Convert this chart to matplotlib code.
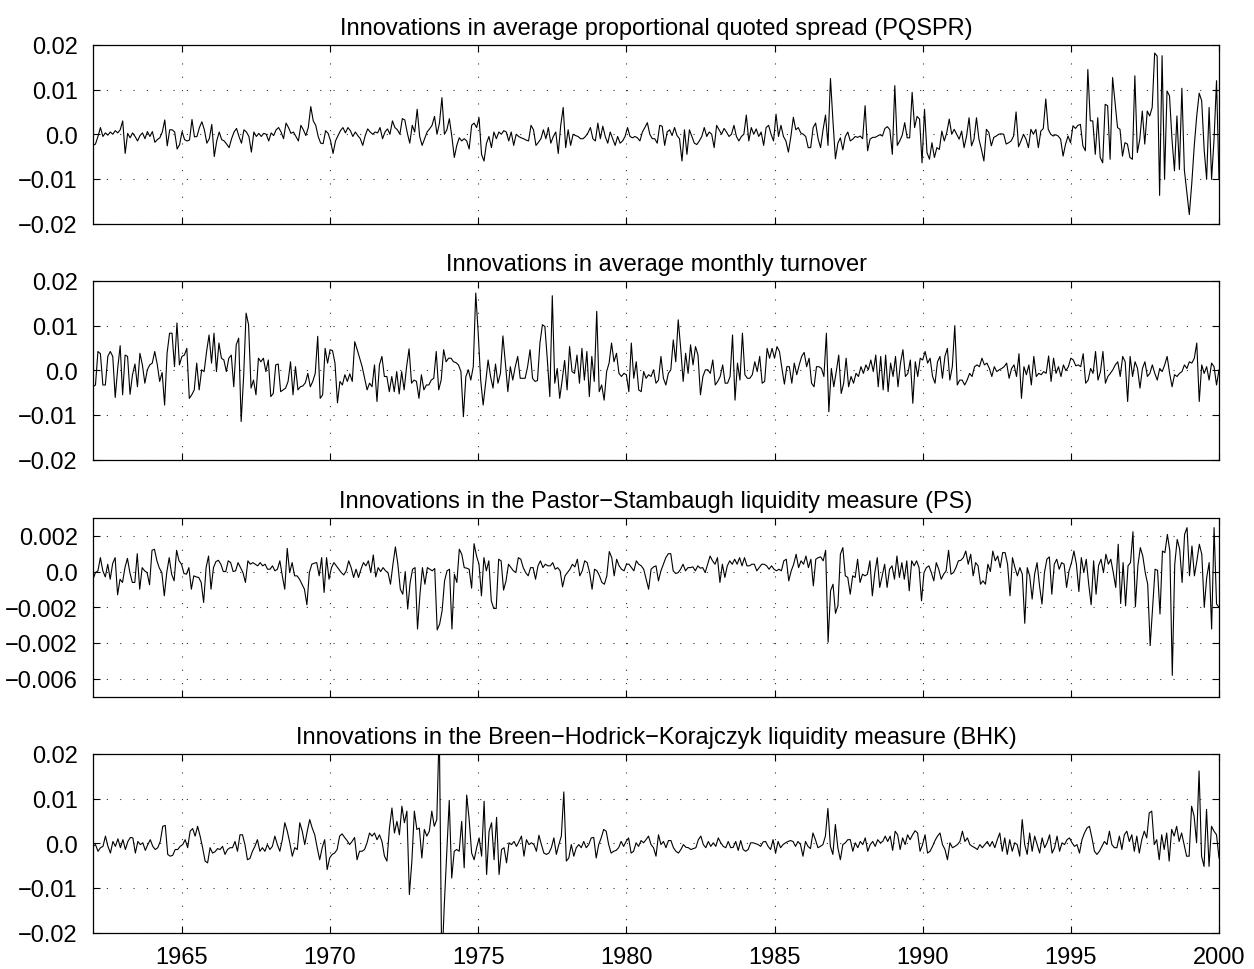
import numpy as np
import matplotlib
matplotlib.use('Agg')
import matplotlib.pyplot as plt

plt.rcParams['font.family'] = ['Liberation Sans', 'DejaVu Sans']

# monthly innovations, 1962-1999 (PQSPR, turnover, BHK in 1e-3, PS in 1e-4)
pqspr = [
    -2.5, -2.2, -0.5, 1.5, -0.5, 0.3, -0.2, 0.5, 0, 0.8, 0.3, 1.0, 3.0,
    -4.3, 0.2, -0.8, 0.3, -0.5, -1.5, -0.3, 0.3, -1.0, 0.6, -0.5, 0.6, -1.8, -1.2, -0.8, 0.5, 3.2,
    -2.6, 1.0, 1.0, 0.5, -3.3, -2.3, 0.6, -1.2, -1.5, -1.3, 3.3, -0.6, -0.5, 1.5, 2.8, 1.0, -2.0,
    -1.0, 2.2, -5.0, -1.5, 0.5, -1.2, -1.5, -2.2, -3.0, -1.0, 0.5, 1.3, -0.5, -2.0, 1.0, 0.5, -0.5,
    -4.0, 0.5, -0.5, 0.2, -0.5, 0.2, 0.0, -1.5, 0.3, -0.3, 1.0, 1.5, 0.5, -1.0, 2.5, 1.5, 0.2, 0.5,
    -0.5, -1.5, 2.0, 1.0, -0.3, 1.5, 6.2, 3.0, 2.0, -0.5, -2.0, -2.1, 0.8, 0.2, -1.5, -4.3, -1.5,
    -0.3, 0.8, 1.5, 0.3, 1.5, 0.8, -0.5, 0.5, -0.3, -1.0, -2.5, -0.3, 1.2, 0.5, 0.0, 0.5, 0.3, 1.5,
    -1.0, 0.5, 1.2, 0.0, 3.0, 1.5, 1.0, 0.0, 3.5, 3.2, 0.3, -2.0, 2.0, 0.5, 5.6, -0.5, -2.5, -1.0,
    0.5, 1.2, 2.0, 4.0, 0.0, 2.5, 8.2, 0.0, 1.0, 3.5, -0.5, -5.2, -2.5, -0.8, -1.5, -1.0, -1.5, -3.3,
    2.0, 2.5,
    1.5, 3.7, -4.5, -6.0, -2.0, -0.5, -3.0, 0.5, -1.0, 0.5, 0.0, 0.8, 0.5, -1.5, 0.5, -2.5, 0.0,
    -0.5, -0.8, -1.0, -1.3, -1.5, 2.0, 1.0, -2.5, -1.8, -1.0, 1.0, -1.0, 1.5, -2.0, -0.5, 0.5, -4.3,
    2.0, 6.0, -3.0, 1.0, -2.5, 0.0, -0.3, -0.5, -1.0, -1.0, -0.5, 0.3, 1.5, -1.0, -1.5, 2.5, -1.0,
    1.8, -0.5, -2.0, 0.5, -1.0, -2.5, -0.5, -2.0, -1.5, -0.5, 1.5, -0.5, -0.8, -0.5, -0.8, -1.5,
    0.5, 1.5, 2.6, 0.0, -1.0, -1.0, -2.0, 2.0, 1.8, -2.5, 0.5, 1.0, -0.3, 1.5, -0.3, -1.0, -6.0,
    1.0, -4.5, 1.0, -0.5, -2.0, -2.3, -1.5, -0.5, 1.5, -0.5, 0.5, 0.0, -3.0, 2.0, 1.0, 0.0, 1.3,
    0.5, -0.5, 0.0, 2.0, -0.5, -1.5, -0.5, 0.0, 4.3, -1.5, 1.5, 0.0, 1.2, -0.5, 0.5, -2.5, 1.5,
    2.0, 0.0, -1.5, 4.5, -0.5, 2.0, -0.5, -1.5, -4.0, -0.5, 3.8, 1.0, 1.5, 0.3, 0.0, -0.5, -3.0,
    -3.0, 1.5, 2.5, -1.0, -3.0, 1.0, 4.3, -2.5, 12.5, 3.0, -5.5, -2.0, -0.8, -3.5, -0.5, 0.5, -1.5,
    -1.1, -0.5, -0.7, -0.4, -1.0, 6.4, -3.7, -1.1, -0.7, -0.7, -0.4, -0.1, -0.4, 1.3, 1.7, 1.0,
    -4.5, 10.9, -2.5, -1.5, -0.2, 2.6, -0.8, -0.8, 9.4, 1.5, 4.0, 3.4, -6.4, 5.6, -4.1, -5.6, -1.9,
    -5.2, -3.0, -3.4, 0.7, -1.5, 0.4, 3.4, 0.0, 1.1, 0.0, -1.1, 0.7, -3.0, -0.4, 3.7, -2.6, -1.1,
    3.7, -1.1, -3.4, -6.0, 1.1, 0.4, -2.6, -0.7, -0.4, 0.0, 0.1, 0.0, -2.2, -1.9, -1.5, -0.4, 5.0,
    -2.8, -1.5, 0.0, -1.1, -3.0, 1.1, 0.0, 1.1, -3.0, 0.7, 1.3, 7.9, 1.1, 0.0, -0.4, -0.1, -0.4,
    -1.1, -4.9, -2.2, -0.4, -1.9, 1.9, 1.3, 2.0, 2.2, -2.6, -3.7, 14.5, 3.0, 3.0, -4.5, 3.7, -5.2,
    -6.4, 6.7, 6.4, -5.6, 12.7, 7.1, 1.5, 1.1, -4.9, -1.9, -2.2, -5.2, -5.6, 13.1, -4.1, -1.1, 5.2,
    -2.2, 5.2, 4.1, 6.0, 18.2, 17.5, -13.7, 17.6, -10.1, 9.7, 8.6, -1.1, -8.2, 4.1, -7.9, 10.3,
    -8.0, -13.0, -18.0, -11.0, -2.6, 4.1, 9.2, 7.5, -3.4, -10.1, 6.0, -10.1, -1.1, 12.0, -10.1,
]

turnover = [
    -3.7, -3.3, 4.2, 3.7, -3.3, -3.3, 3.1, 4.2, 3.1, -6.1, 0.4, 5.5, -5.5, 3.4, 3.1, -5.4, -1.0,
    1.4, -3.7, 3.8, 1.2, -2.9, 0.1, 1.2, 1.6, 4.2, 1.4, -2.5, -0.5, -7.8, 3.8, 8.3, 8.3, 0.8, 10.6,
    1.2, 3.1, 3.4, 4.9, -6.3, -5.5, -4.4, 1.6, -4.4, 0.1, -0.3, 4.2, 7.9, 1.6, 8.3, -0.3, 6.1, 2.7,
    2.3, -0.3, 2.7, 3.4, -3.7, 5.7, 7.2, -11.5, -1.4, 12.8, 10.2, -4.0, -2.2, -5.5, 2.7, 1.9, 2.7,
    -0.3, 2.3, -5.9, -5.2, 1.2, 1.4, -4.8, -4.4, -4.0, -2.5, 1.9, -5.5, 0.8, -4.4, -3.7, -3.5,
    -2.8, -0.7, -3.7, -2.5, -0.7, 7.6, -6.3, -5.5, 4.9, 1.6, 4.6, 4.4, 1.6, -7.3, -2.5, -3.3,
    -1.0, -2.5, -0.8, -2.5, 6.4, 4.6, 2.7, 0.8, -1.8, -4.4, -2.9, -3.7, 1.2, -7.0, 1.2, 3.1, -1.4,
    -1.4, -4.8, -1.4, -4.8, -0.3, -5.3, -0.3, -4.4, 0.8, 4.8, -2.9, -2.2, -2.5, -6.3, -1.0, -4.4,
    -3.3, -3.3, -2.2, -1.8, 4.2, -4.4, -2.2, 4.6, 1.9, 2.7, 2.7, 1.9, 1.7, 1.2, -0.3, -10.4, -1.4,
    0.1, -2.2,
    0.8, 17.3, 8.3, -2.2, -7.8, -2.9, 2.3, -1.4, -4.0, 1.4, -2.9, -0.7, 7.7, 1.6, -4.8, 0.8, -2.2,
    0.8, 3.1, -1.8, -1.8, -1.8, 0.8, 4.6, -1.8, -2.5, -2.3, 6.1, 10.2, 9.8, 2.3, -5.9, 16.7, -2.9,
    0.4, -6.3, -2.2, 2.2, -4.4, 5.3, -0.3, -0.7, 3.4, -2.9, 4.9, -2.2, 4.2, -5.9, 3.1, -2.5, 13.2,
    -4.8, -3.3, -6.7, -0.3, 1.6, 6.1, 1.9, 3.8, -0.7, -1.4, -0.7, -1.0, -4.8, 6.1, -1.8, 1.9, -4.4,
    -4.8, -0.3, -1.8, -1.0, -1.4, 0.1, -2.9, -2.2, 3.1, -1.8, -3.3, -0.7, 0.1, 6.8, 1.9, 11.3, 4.9,
    -2.5, 3.8, -0.7, 5.7, 1.2, 5.3, 3.4, -5.5, -1.4, 0.1, 0.1, -0.7, 2.3, -3.3, -2.5, -1.4, 1.2,
    -2.9, -2.9, -1.4, 7.9, -6.7, 1.6, -2.2, 8.3, -1.0, -1.8, -1.8, -1.0, 1.9, -0.3, 3.1, -2.9,
    -2.5, 4.9, 2.7, 4.9, 2.7, 5.3, 4.2, 0.4, -3.1, 0.8, 0.8, -2.9, 1.6, -1.0, 1.2, 3.1, 4.0, 0.8,
    2.7, -2.9, -3.7, 0.8, 0.8, 0.4, -1.4, 8.3, -9.3, 0.4, -3.7, -0.3, 3.4, -5.2, -2.9, 2.7,
    -3.7, -1.4, -2.9, -0.7, -1.4, 0.8, -0.7, 1.2, 0.1, 2.3, -0.3, 3.4, -3.7, 3.1, -4.4, 3.4, -4.8,
    1.6, -1.4, 3.1, -3.7, 1.6, 4.6, -1.4, -0.7, 2.3, -7.4, 1.9, -1.4, 2.7, 2.3, 4.2, 1.6, 2.7,
    -1.4, -2.9, 1.9, 3.1, -1.8, 3.1, 4.9, -2.2, 0.8, 10.0, -3.3, -2.2, -2.2, -3.3, -2.2, -0.7, -1.4,
    0.8, 1.2, 0.8, 2.7, 1.2, 1.6, 0.4, -1.4, 0.8, -0.3, 0.1, 0.4, 0.8, 1.6, -1.8, 0.4, 1.2, -1.4,
    3.7, -6.3, 0.8, -1.0, 1.2, -3.3, 3.1, -1.4, -0.7, -1.0, -0.3, -0.7, 3.2, -2.5, 2.7, -0.7, 0.8,
    -1.4, 1.2, -0.1, 0.8, 2.7, 2.3, 1.0, 1.2, 0.8, 3.7, -2.9, -2.2, 0.4, -0.7, 4.2, -2.2, -0.3,
    4.2, -2.9, -1.4, -0.7, 0.1, 1.2, 1.9, -1.4, 3.1, 1.9, -7.0, 3.1, -1.4, 1.9, 0.4, -4.0, 0.4, 1.9,
    -1.4, -0.7, 1.2, -0.7, -2.2, 0.4, -0.3, 1.2, 3.1, -0.7, -3.7, -1.0, -1.4, -0.7, -0.3, 1.2, 0.4,
    1.9, 1.6, 2.7, 6.1, -7.0, 1.2, -0.7, 0.8, -2.2, 1.6, 0.8, -3.3, 0.1,
]

ps = [
    -4.3, -0.6, 0.4, 7.8, 0.4, -3.0, 4.1, -4.3, 4.5, 7.8, -13.0, -4.3, -6.1, 2.2, 7.4, -0.6, -6.1,
    -6.1, 10.0, -9.9, 2.2, 0.4, -0.6, -7.4, 11.9, 12.5, 6.0, 1.9, -0.6, -13.6, -0.6, 7.8, -1.5,
    -5.2, 11.9, 6.0, 4.1, -1.1, -1.5, 2.2, -9.9, -2.4, -3.0, -3.3, -6.1, -17.3, 2.2, 8.7, -9.9,
    2.2, 5.6, 6.3, 4.1, 0.0, 0.0, 6.0, 5.0, 0.0, 0.4, 5.0, 2.2, -0.6, -6.1, 6.0, 4.1, 5.0, 4.1,
    3.2, 5.0, 3.2, 4.1, 1.3, 1.3, 3.2, 0.4, 1.3, 6.0, -2.4, -9.9, 13.0, -0.6, 5.0, -2.4, -2.4,
    -4.3, -7.1, -9.9, -18.6, -0.6, 4.1, 4.7, 5.0, -2.4, 7.8, -11.7, 7.8, -4.3, 2.2, 5.0, 3.2, 1.3,
    -0.6, -1.9, 0.4, 6.0, 2.2, -3.3, 1.3, -3.3, 1.3, 5.0, 3.2, 6.0, -0.6, 9.3, -3.0, 2.2, 0.0, 2.2,
    0.4, -0.6, -7.1, 4.1, 13.8, 4.1, -9.9, -12.7, 0.0, -21.0, -6.1, 1.3, 2.2, -32.2, -12.7, 2.2,
    -7.1, 2.2, 1.3, 0.4, 1.7, -32.7, -29.4, -22.0, -5.2, 0.4, 1.3, -32.2, -1.5, -6.1, 12.5, 9.7,
    2.2, 1.9, 1.3, -9.3, 15.6, 8.7,
    4.1, -13.6, 7.8, 0.4, 6.0, -16.4, -20.7, -20.7, 6.9, 6.0, -10.4, -5.2, 4.1, 2.2, 0.4, -0.6,
    7.8, 6.9, 2.2, -0.6, -2.4, 2.2, 2.2, -4.3, 3.2, 6.0, 2.2, 4.1, 3.2, 3.2, 5.0, 1.3, 2.2, 0.4,
    -8.6, -2.4, -0.6, 1.3, 4.1, 2.6, 6.9, -2.4, 0.4, 6.0, 5.0, -0.6, -9.9, 1.3, 0.4, -2.4, -6.1,
    -7.1, -2.4, 11.2, 7.8, -2.4, 6.9, 3.2, 1.3, 0.4, 4.1, 4.1, 2.2, 0.4, 6.0, 4.1, 3.2, 1.3, -4.3,
    -9.9, 1.3, 2.6, 3.2, -5.2, 0.4, 4.1, 7.8, 10.0, 10.0, 0.4, -1.1, -0.6, 1.3, 4.1, 0.4, 2.2, 2.2,
    2.6, 0.4, 3.2, 1.9, 2.2, -0.6, 4.1, 8.7, 6.0, 4.1, 7.8, -6.1, 4.1, -3.3, 3.2, 6.0, 4.1, 6.9,
    4.1, 7.8, 3.2, 7.8, 3.2, 3.2, 4.1, 4.1, 0.4, 2.2, 4.1, 4.1, 3.2, 1.3, 3.2, 1.3, 0.4, 1.3, 0.4,
    6.0, 6.9, -5.2, 0.4, 4.1, 9.7, 2.2, 6.0, 4.1, 8.7, 2.2, 6.9, -8.0, 6.9, 7.8, 8.2, 6.0, 11.9,
    -39.6, -10.8, -7.1, -23.4, -19.1, 9.7, 13.4, -2.4, -3.3, -12.7,
    -2.4, -3.3, 6.9, -6.1, -1.5, -2.4, -1.5, 6.0, -13.6, -0.6, 7.8, -8.9, -2.4, 4.1, -8.9, 1.3,
    3.2, -4.3, 8.7, -3.3, 5.0, -4.3, 6.0, -10.8, 6.0, 3.2, 6.0, 2.2, -16.4, -0.6, 2.2, 3.2, -0.6,
    -5.2, 5.0, 1.3, -4.3, -1.5, 0.4, 11.9, -1.5, -0.6, 2.2, 6.0, 6.3, 7.8, 11.5, 4.1, 9.7, -2.4,
    5.0, 3.2, -7.1, -5.2, -7.1, 4.1, 0.0, 11.5, 6.0, 8.7, 2.2, 10.6, 10.6, 4.1, -13.6, 7.8, 2.2,
    -2.4, 2.2, -1.5, -29.0, 2.2, -2.4, -15.4, -1.5, 5.0, -8.0, -18.2, -0.6, 6.9, 8.2, -12.7, 4.1,
    6.9, 1.3, 5.0, 4.1, -8.9, 0.4, 5.0, 11.5, 4.1, -11.2, 7.8, -0.6, 6.9, -7.1, -18.6, 6.0, -12.7,
    3.2, 6.9, -0.6, 9.7, 4.1, 6.9, -0.6, -8.9, 15.3, -17.9, 5.0, -19.2, 3.2, 5.0, 22.3, -19.7, 3.2,
    13.4, 8.7, -0.6, -7.1, -41.5, -20.1, 1.3, 0.7, -23.8, 11.5, 10.6, 20.8, 11.5, -58.2, 4.1, 18.0,
    12.5, -6.1, 20.8, 24.6, -2.4, 14.3, -2.4, 6.0, 15.3, 9.7, -20.1, -3.3, 5.0, -32.2, 24.6, -18.2,
    -20.0,
]

bhk = [
    -0.7, -0.3, -1.8, -1.0, -0.7, 1.6, -0.7, -2.2, 0.4, -0.7, 1.0, -1.0, 0.8, -1.4, 0.4, 1.3, 1.2,
    -2.2, 0.4, -0.3, 0.1, -1.6, -0.3, 0.8, -0.7, -1.4, -1.0, 0.4, 3.8, 4.0, -2.5, -2.9, -2.7, -1.4,
    -1.4, -0.7, -0.3, 0.8, -1.0, 2.7, 3.3, 1.6, 3.8, 1.6, -1.0, -4.0, -4.4, -1.0, -2.2, -1.9, -1.2,
    -1.4, -0.7, -2.5, -1.4, -1.0, -1.0, 0.4, -1.8, 1.9, 1.9, -0.3, -3.7, -3.4, -1.8, -0.7, 0.8,
    -1.8, -1.0, -1.8, -0.3, -1.4, -0.7, 1.6, -0.3, -1.8, 0.8, 4.6, 2.7, 0.1, -2.9, -1.0, -1.4, 4.6,
    2.7, -0.3, 2.7, 5.3, 3.4, 1.9, -1.0, -3.7, -1.0, 0.8, -5.9, -3.3, -2.5, -2.2, -1.4, 1.6, 2.1,
    1.3, 0.6, -0.3, 0.4, 1.3, -3.7, -1.8, -1.8, -1.4, 0.1, 2.3, 1.6, 2.3, 0.8, 1.9, 0.4, -2.9,
    -4.0, 3.4, 7.9, 2.3, 4.9, 1.9, 8.3, 4.6, 7.2, -11.5, -4.0, 7.2, 3.1, 3.4, -3.3, 3.1, 1.6, 2.7,
    7.2, 3.8, 5.3, 26.0, -28.0, -14.0, -2.0, 9.6, -7.8, -1.8, -1.4, -1.8, 4.9, -5.5, 10.8, 5.3,
    -2.2, -3.7,
    -1.0, 1.2, -2.9, 9.4, -7.0, 2.7, 4.6, -3.7, 5.8, -7.0, -1.4, -1.0, -4.4, 0.1, -0.3, 0.4, -0.7,
    0.4, 1.6, -2.9, 0.8, -0.3, 0.1, -0.3, -1.8, 1.8, -0.3, -2.2, -2.5, -2.2, -1.0, 1.2, -2.5, -0.3,
    1.6, 11.5, -4.0, -3.3, -0.3, -2.9, -1.0, -0.3, -1.0, 0.4, -1.0, -0.3, 1.2, 1.3, -3.3, -0.3,
    1.2, 3.1, 2.7, -0.3, -2.2, -1.8, -1.6, -1.0, 0.4, -0.7, 0.4, 1.2, -2.2, -1.8, 0.1, -0.7, 0.6,
    0.1, 0.8, 1.6, -0.3, -1.0, -2.9, 1.9, -0.3, 0.4, -1.0, 0.6, 0.6, -1.0, -1.8, -2.2, -1.4, -0.3,
    -0.9, -1.0, -1.4, -1.2, -1.0, 0.8, 1.6, -0.3, -1.0, 0.4, -0.7, 0.1, -0.7, 1.2, 0.1, -0.7, -1.0,
    0.4, -1.0, -0.9, 0.4, -1.6, 0.6, -1.4, -1.8, -1.4, 0.1, 0.1, -0.1, -0.3, -0.7, 0.3, 0.4, -0.7,
    -1.4, 0.8, -2.2, 0.4, -1.0, -0.3, 0.1, 0.4, 0.6, 0.4, -0.7, 0.4, -0.3, -2.9, 0.4, -0.7, -1.2,
    2.3, 0.8, -1.0, -0.7, -0.3, 1.6, 7.8, -0.7, -2.5, 4.2, -1.0, -3.7, -0.3, 0.1, 0.8,
    0.8, -1.8, 0.1, -1.0, 0.4, -0.3, 1.2, -1.8, -0.3, 0.4, -0.7, 0.8, 0.1, 0.4, 1.6, 0.4, 1.6, -1.6,
    2.7, 1.9, -1.4, 1.2, -0.3, 1.9, 0.8, 1.9, 2.8, 2.3, -1.8, -0.3, 1.9, -2.2, -1.8, -0.7, 0.6, 1.6,
    2.3, -0.3, -1.4, -3.7, 0.1, -1.0, -0.7, -0.3, 0.4, 2.7, 0.4, 1.2, -0.3, -0.7, -1.0, -1.4, -0.3,
    -1.0, -0.3, 0.4, -0.7, 0.4, -1.0, 0.8, 2.3, -1.8, 1.2, -2.5, 0.8, -1.8, 0.1, -0.3, -2.9, 5.3,
    -0.3, -2.5, 2.3, -1.8, 1.6, -0.3, -2.2, 1.2, -1.0, 0.1, 1.9, -2.2, -1.0, 1.6, -1.8, 0.1, -0.3,
    0.8, 1.2, 0.1, -0.7, -0.3, -2.2, 0.8, 2.3, 3.4, 3.8, 1.2, -1.8, -2.5, -1.8, -0.7, 0.4, -0.3,
    2.7, -0.3, -1.0, -1.0, 1.6, -1.4, 1.9, 2.7, 0.4, 1.9, -1.8, 1.6, -2.2, 0.8, 2.7, 1.2, 6.8, 7.2,
    -0.3, 0.8, -3.7, 1.9, -1.4, 2.3, -4.0, 3.1, 1.6, 3.8, 0.4, 2.3, -0.3, -2.9, -2.9, 8.3, 6.1, 0.1,
    16.2, -2.9, -5.2, 7.6, -5.2, 3.8, 2.7, 1.9, -3.3,
]

titles = [
    'Innovations in average proportional quoted spread (PQSPR)',
    'Innovations in average monthly turnover',
    'Innovations in the Pastor\u2212Stambaugh liquidity measure (PS)',
    'Innovations in the Breen\u2212Hodrick\u2212Korajczyk liquidity measure (BHK)',
]
scales = [1e-3, 1e-3, 1e-4, 1e-3]
big_ticks = [-0.02, -0.01, 0.0, 0.01, 0.02]
big_labels = ['\u22120.02', '\u22120.01', '0.0', '0.01', '0.02']
ps_ticks = [-0.006, -0.004, -0.002, 0.0, 0.002]
ps_labels = ['\u22120.006', '\u22120.002', '\u22120.002', '0.0', '0.002']
year_ticks = [1965, 1970, 1975, 1980, 1985, 1990, 1995, 2000]

series = [pqspr, turnover, ps, bhk]
fs = 17

fig = plt.figure(figsize=(12.54, 9.70), dpi=100)
W, H = 1254.0, 970.0
tops = [46, 282, 519, 755]
for k in range(4):
    ax = fig.add_axes([93 / W, 1 - (tops[k] + 178.5) / H, 1126 / W, 178.5 / H])
    y = np.array(series[k]) * scales[k]
    x = np.linspace(1962.0, 2000.0, len(y))
    ax.plot(x, y, color='k', lw=0.8)
    ax.set_xlim(1962, 2000)
    if k == 2:
        ax.set_ylim(-0.007, 0.003)
        ax.set_yticks(ps_ticks)
        ax.set_yticklabels(ps_labels)
    else:
        ax.set_ylim(-0.02, 0.02)
        ax.set_yticks(big_ticks)
        ax.set_yticklabels(big_labels)
    ax.set_xticks(year_ticks)
    if k == 3:
        ax.set_xticklabels([str(t) for t in year_ticks])
    else:
        ax.set_xticklabels([])
    ax.grid(True, color='#333333', lw=0.8, linestyle=(0, (1, 11)))
    ax.tick_params(direction='in', length=5, width=0.8, top=True, right=True,
                   labelsize=fs)
    ax.tick_params(axis='y', pad=11)
    ax.tick_params(axis='x', pad=10)
    for s in ax.spines.values():
        s.set_linewidth(0.9)
    ax.set_title(titles[k], fontsize=fs, pad=8)

fig.savefig('out.png', dpi=100)
